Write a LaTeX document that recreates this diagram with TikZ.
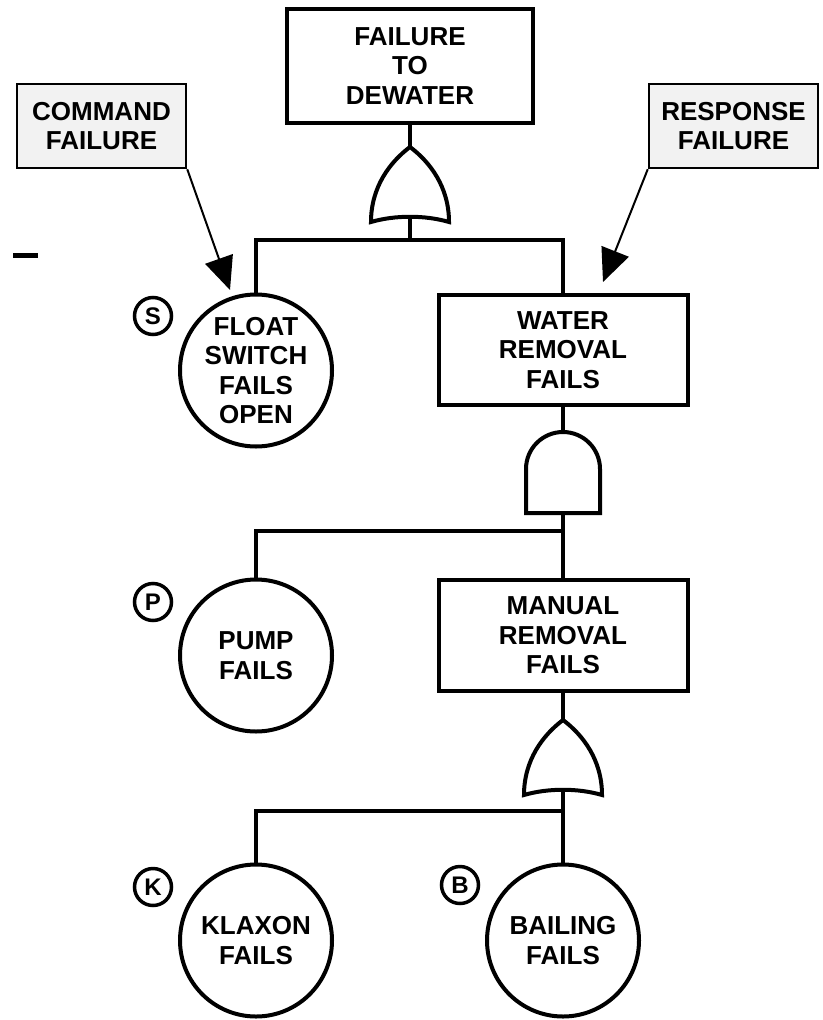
\documentclass[tikz,border=0pt]{standalone}
\usepackage{fontspec}
\setmainfont{Liberation Sans}
\usetikzlibrary{arrows.meta}
\definecolor{notegray}{gray}{0.95}

\begin{document}
\begin{tikzpicture}[x=1pt,y=-1pt,
  font=\fontsize{26}{29.5}\selectfont\bfseries,
  event/.style={draw,line width=4pt,align=center,inner sep=0pt},
  leaf/.style={draw,circle,line width=4pt,align=center,minimum size=152pt,inner sep=-20pt},
  note/.style={draw,line width=2.5pt,fill=notegray,align=center,minimum width=169pt,minimum height=84pt,inner sep=0pt},
  tag/.style={draw,circle,line width=3.5pt,minimum size=37pt,inner sep=0pt,font=\fontsize{24}{24}\selectfont\bfseries},
  wire/.style={line width=4pt},
  pointer/.style={line width=2pt,-{Triangle[length=33pt,width=29pt]}},
  orgate/.pic={
    \draw[wire] (0,0) .. controls (-20,15) and (-39,40) .. (-39,75)
      .. controls (-15,68) and (15,68) .. (39,75)
      .. controls (39,40) and (20,15) .. (0,0) -- cycle;
    \coordinate (-in) at (0,0);
    \coordinate (-out) at (0,70);},
  andgate/.pic={
    \draw[wire] (-37,81) -- (-37,37) arc[start angle=180,end angle=360,radius=37] -- (37,81) -- cycle;
    \coordinate (-in) at (0,0);
    \coordinate (-out) at (0,81);}]

\useasboundingbox (0,0) rectangle (822,1020);

\node[event,minimum width=246pt,minimum height=114pt] (top) at (410,66) {FAILURE\\TO\\DEWATER};
\node[note] (cmd) at (101.5,126) {COMMAND\\FAILURE};
\node[note] (resp) at (733.5,126) {RESPONSE\\FAILURE};

\node[leaf] (float) at (256,370.5) {FLOAT\\SWITCH\\FAILS\\OPEN};
\node[event,minimum width=249pt,minimum height=110pt] (water) at (563,350) {WATER\\REMOVAL\\FAILS};
\node[leaf] (pump) at (256,655.5) {PUMP\\FAILS};
\node[event,minimum width=249pt,minimum height=111pt] (manual) at (563,635.5) {MANUAL\\REMOVAL\\FAILS};
\node[leaf] (klaxon) at (256,940.5) {KLAXON\\FAILS};
\node[leaf] (bailing) at (563,940.5) {BAILING\\FAILS};

\node[tag] (s) at (153,316) {S};
\node[tag] (p) at (153,602) {P};
\node[tag] (k) at (153,887) {K};
\node[tag] (b) at (460,885) {B};

\pic (g1) at (410,147) {orgate};
\pic (g2) at (563,432) {andgate};
\pic (g3) at (563,720) {orgate};

\coordinate (bus1) at (410,240);
\coordinate (bus2) at (563,531);
\coordinate (bus3) at (563,811);

\begin{scope}[wire]
\draw (top) -- (g1-in);
\draw (g1-out) -- (bus1);
\draw (float) |- (bus1) -| (water);
\draw (water) -- (g2-in);
\draw (g2-out) -- (bus2);
\draw (pump) |- (bus2) -- (manual);
\draw (manual) -- (g3-in);
\draw (g3-out) -- (bus3);
\draw (klaxon) |- (bus3) -- (bailing);
\end{scope}

\coordinate (cmdtip) at (230,290);
\coordinate (resptip) at (603,282);
\draw[pointer] (cmd.south east) -- (cmdtip);
\draw[pointer] (resp.south west) -- (resptip);

\draw[line width=5pt] (13,255) -- (38,255);
\end{tikzpicture}
\end{document}
